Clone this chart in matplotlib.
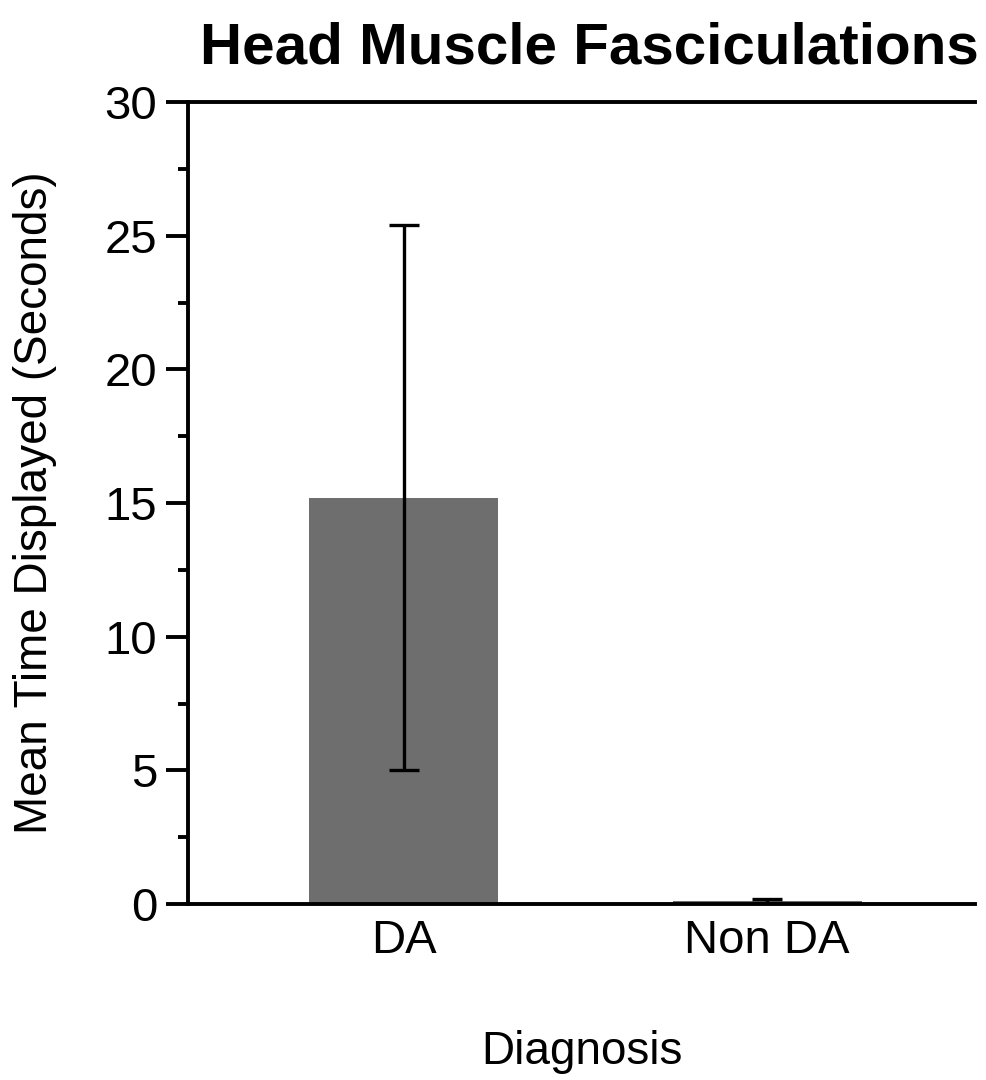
import matplotlib
matplotlib.use("Agg")
import matplotlib.pyplot as plt
from matplotlib.ticker import MultipleLocator

plt.rcParams['font.family'] = ['Liberation Sans', 'DejaVu Sans']

categories = ["DA", "Non DA"]
means = [15.2, 0.1]
errors = [10.2, 0.07]
title = "Head Muscle Fasciculations"
ylabel = "Mean Time Displayed (Seconds)"
xlabel = "Diagnosis"

fig = plt.figure(figsize=(9.87, 10.8), dpi=100)
ax = fig.add_axes([188/987, 176/1080, (975-188)/987, (904-102)/1080])

x = list(range(len(categories)))
ax.bar(x, means, width=0.52, color="#6e6e6e", zorder=2)
ax.errorbar(x, means, yerr=errors, fmt="none", ecolor="black", elinewidth=2.4,
            capsize=11, capthick=2.4, zorder=3)

ax.set_xlim(-0.593, 1.572)
ax.set_ylim(0, 30)
ax.yaxis.set_major_locator(MultipleLocator(5))
ax.yaxis.set_minor_locator(MultipleLocator(2.5))
ax.set_xticks(x)
ax.set_xticklabels(categories)

for s in ["left", "bottom", "top"]:
    ax.spines[s].set_linewidth(2.8)
ax.spines["right"].set_visible(False)

ax.tick_params(axis="y", which="major", direction="out", length=16, width=2.8,
               labelsize=34, pad=6)
ax.tick_params(axis="y", which="minor", direction="out", length=7.5, width=2.8)
ax.tick_params(axis="x", which="both", length=0, labelsize=34, pad=11)

ax.set_ylabel(ylabel, fontsize=33, labelpad=34)
ax.set_xlabel(xlabel, fontsize=33, labelpad=48)
ax.set_title(title, fontsize=42, fontweight="bold", pad=28, x=0.51)

fig.savefig("out.png", dpi=100)
